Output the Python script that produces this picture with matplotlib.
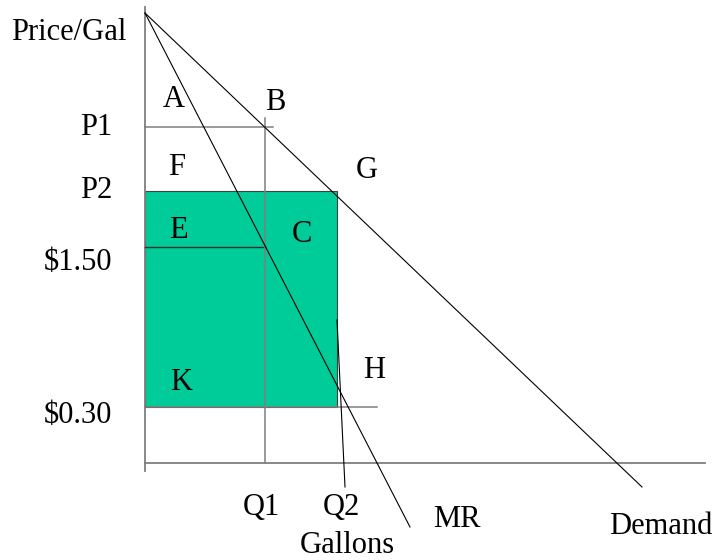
import matplotlib
matplotlib.use("Agg")
import matplotlib.pyplot as plt
from matplotlib.patches import Rectangle

# Schematic units: quantity and price, axis origin at (0, 0)
demand_q = [0.0, 49.7]
demand_p = [45.0, -2.4]
mr_q = [0.0, 26.5]
mr_p = [45.0, -6.4]

price_levels = {"P1": 33.6, "P2": 27.2, "$1.50": 21.6, "$0.30": 5.6}
q1 = 12.0
q2 = 19.2
q2_line_q = [19.2, 20.0]
q2_line_p = [14.3, -2.4]

x_axis_end = 56.0
y_axis_top = 45.6
y_axis_bottom = -0.8

# Region labels (q, p at baseline)
region_labels = ["A", "B", "F", "G", "E", "C", "K", "H"]
region_q = [2.9, 13.0, 3.2, 22.2, 3.3, 15.7, 3.6, 22.9]
region_p = [35.6, 35.3, 28.8, 28.5, 22.5, 22.1, 7.3, 8.5]

GREEN = "#00CC99"
GRAY = "#7f7f7f"
FONT = "Liberation Serif"
FS = 22

fig = plt.figure(figsize=(7.19, 5.6), dpi=100)
ax = fig.add_axes([0, 0, 1, 1])
ax.set_xlim(-14.5, 57.4)
ax.set_ylim(-9.7, 46.3)
ax.axis("off")

# shaded revenue block
ax.add_patch(Rectangle((0, price_levels["$0.30"]), q2, price_levels["P2"] - price_levels["$0.30"],
                       facecolor=GREEN, edgecolor="#404040", linewidth=0.8, zorder=1))

# axes
ax.plot([0, x_axis_end], [0, 0], color=GRAY, lw=1.3, zorder=2)
ax.plot([0, 0], [y_axis_bottom, y_axis_top], color=GRAY, lw=1.3, zorder=2)

# guide lines
ax.plot([0, 12.8], [price_levels["P1"]] * 2, color=GRAY, lw=1.1, zorder=2)
ax.plot([0, q1], [price_levels["$1.50"]] * 2, color="#303030", lw=1.0, zorder=2)
ax.plot([0, 23.2], [price_levels["$0.30"]] * 2, color=GRAY, lw=1.1, zorder=2)
ax.plot([q1, q1], [0, 34.5], color=GRAY, lw=1.1, zorder=2)

# curves
ax.plot(demand_q, demand_p, color="black", lw=0.8, zorder=3)
ax.plot(mr_q, mr_p, color="black", lw=0.8, zorder=3)
ax.plot(q2_line_q, q2_line_p, color="black", lw=0.8, zorder=3)

text_kw = dict(family=FONT, fontsize=FS, va="baseline")

ax.text(-7.6, 42.3, "Price/Gal", ha="center", **text_kw)
price_baselines = {"P1": 32.8, "P2": 26.5, "$1.50": 19.3, "$0.30": 4.0}
for label, base in price_baselines.items():
    ax.text(-3.3, base, label, ha="right", **text_kw)

for label, q, p in zip(region_labels, region_q, region_p):
    ax.text(q, p, label, ha="center", **text_kw)

ax.text(11.6, -5.2, "Q1", ha="center", **text_kw)
ax.text(19.6, -5.2, "Q2", ha="center", **text_kw)
ax.text(20.2, -9.0, "Gallons", ha="center", **text_kw)
ax.text(28.8, -6.4, "MR", ha="left", **text_kw)
ax.text(46.4, -7.1, "Demand", ha="left", **text_kw)

fig.savefig("out.png", dpi=100)
